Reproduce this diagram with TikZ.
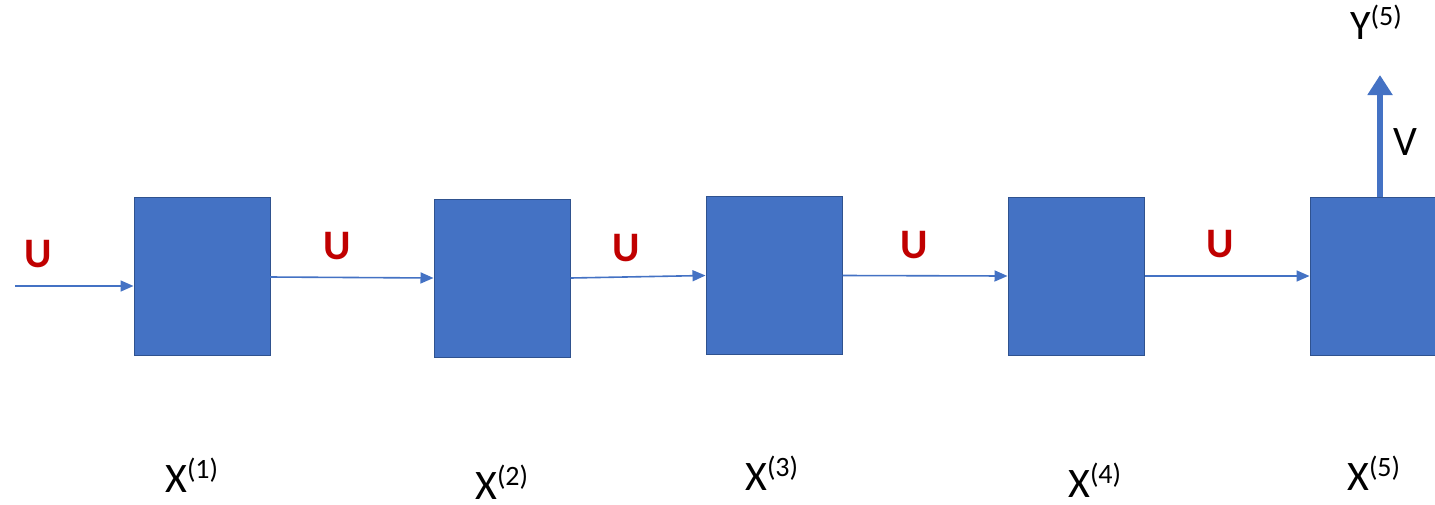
\documentclass[tikz,border=0pt]{standalone}
\usepackage{fontspec}
\setmainfont{Carlito}
\usetikzlibrary{arrows.meta}
\definecolor{boxblue}{HTML}{4472C4}
\definecolor{boxedge}{HTML}{2F528F}
\definecolor{ured}{HTML}{C00000}
\newcommand{\lbl}[2]{#1\raisebox{14pt}{\fontsize{28}{28}\selectfont(#2)}}
\tikzset{
  cell/.style={draw=boxedge, line width=1pt, fill=boxblue, minimum width=136pt, minimum height=158pt, inner sep=0pt},
  flow/.style={draw=boxblue, line width=1.6pt, -{Triangle[length=13pt,width=11pt]}},
  outflow/.style={draw=boxblue, line width=6pt, -{Triangle[length=20pt,width=24pt]}},
  ulabel/.style={text=ured, font=\fontsize{42}{48}\selectfont\bfseries, anchor=base, inner sep=0pt},
  xlabel/.style={font=\fontsize{42}{48}\selectfont, anchor=base west, inner sep=0pt}
}
\begin{document}
\begin{tikzpicture}[x=1pt,y=-1pt]
\clip (0,0) rectangle (1435,504);
\fill[white] (0,0) rectangle (1435,504);
\node[cell] (b1) at (202,276) {};
\node[cell] (b2) at (502,278) {};
\node[cell] (b3) at (774,275.5) {};
\node[cell] (b4) at (1076,276) {};
\node[cell] (b5) at (1378,276) {};
\coordinate (in) at (15,286);
\coordinate (ytop) at (1380,75);
\draw[flow] (in) -- (in -| b1.west);
\draw[flow] (b1) ++(68,1) -- (b2.west);
\draw[flow] (b2.east) -- (b3.west);
\draw[flow] (b3.east) -- (b4.west);
\draw[flow] (b4.east) -- (b5.west);
\draw[outflow] (ytop |- b5.north) -- (ytop);
\node[ulabel] (u1) at (38,267) {U};
\node[ulabel] (u2) at (337,259) {U};
\node[ulabel] (u3) at (626,261) {U};
\node[ulabel] (u4) at (914,258) {U};
\node[ulabel] (u5) at (1220,257) {U};
\node[xlabel] (x1) at (165,492) {\lbl{X}{1}};
\node[xlabel] (x2) at (475,499) {\lbl{X}{2}};
\node[xlabel] (x3) at (745,490) {\lbl{X}{3}};
\node[xlabel] (x4) at (1068,497) {\lbl{X}{4}};
\node[xlabel] (x5) at (1347,490) {\lbl{X}{5}};
\node[xlabel] (y5) at (1350,39) {\lbl{Y}{5}};
\node[xlabel] (v) at (1393,155) {V};
\end{tikzpicture}
\end{document}
